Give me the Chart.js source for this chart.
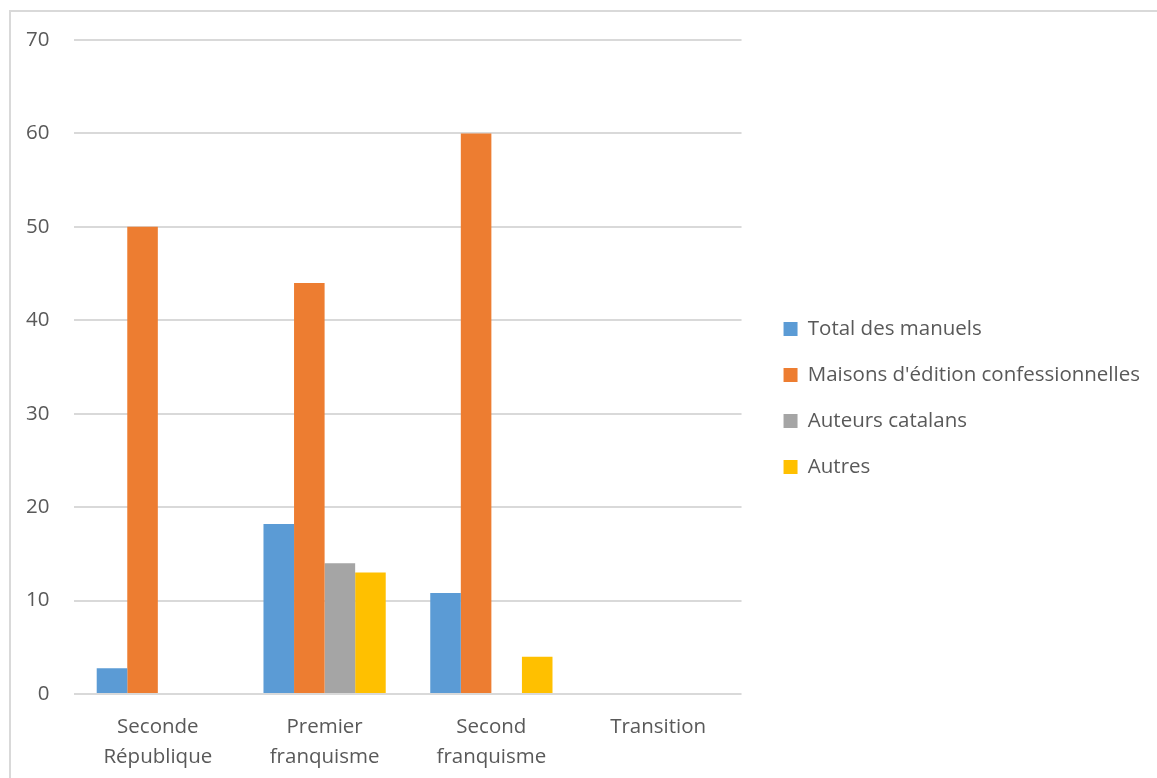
<!DOCTYPE html>
<html>
<head>
<meta charset="utf-8">
<script src="https://cdn.jsdelivr.net/npm/chart.js@4.4.1/dist/chart.umd.min.js"></script>
<style>
  html, body { margin: 0; padding: 0; background: #fff; overflow: hidden; }
  #frame { position: absolute; left: 9px; top: 10px; width: 1300px; height: 900px; border: 2px solid #d9d9d9; box-sizing: border-box; }
  #wrap { position: absolute; left: 0; top: 0; width: 1157px; height: 778px; }
</style>
</head>
<body>
<div id="frame"></div>
<div id="wrap"><canvas id="chart"></canvas></div>
<script>
const categories = [['Seconde', 'République'], ['Premier', 'franquisme'], ['Second', 'franquisme'], 'Transition'];
const seriesNames = ['Total des manuels', "Maisons d'édition confessionnelles", 'Auteurs catalans', 'Autres'];
const totalManuels = [2.75, 18.2, 10.8, 0];
const maisonsConfessionnelles = [50, 44, 60, 0];
const auteursCatalans = [0, 14, 0, 0];
const autres = [0, 13, 4, 0];
const yTicks = [0, 10, 20, 30, 40, 50, 60, 70];

const colors = ['#5b9bd5', '#ed7d31', '#a5a5a5', '#ffc000'];
const values = [totalManuels, maisonsConfessionnelles, auteursCatalans, autres];

Chart.defaults.font.family = '"Open Sans", sans-serif';
Chart.defaults.font.size = 20.5;
Chart.defaults.color = '#595959';

// empty axes used only as spacers
const spacer = (position, size) => ({
  position,
  display: true,
  grid: { display: false, drawTicks: false },
  border: { display: false },
  ticks: { display: false },
  afterFit(scale) {
    if (scale.isHorizontal()) scale.height = size;
    else scale.width = size;
  },
});

const ctx = document.getElementById('chart');
new Chart(ctx, {
  type: 'bar',
  data: {
    labels: categories,
    datasets: seriesNames.map((name, i) => ({
      label: name,
      data: values[i],
      backgroundColor: colors[i],
      borderWidth: 0,
      categoryPercentage: 0.733,
      barPercentage: 1,
    })),
  },
  options: {
    responsive: true,
    maintainAspectRatio: false,
    animation: false,
    layout: {
      padding: { left: 1, top: 24, right: 7, bottom: 6 },
    },
    plugins: {
      legend: {
        position: 'right',
        maxWidth: 440,
        labels: {
          boxWidth: 14,
          boxHeight: 14,
          padding: 25.5,
          color: '#595959',
        },
      },
      tooltip: { enabled: false },
    },
    scales: {
      x: {
        grid: { display: false, drawTicks: false },
        border: { display: false },
        ticks: { padding: 18, color: '#595959', font: { lineHeight: '30px' } },
        afterFit(scale) {
          scale.height = 78;
        },
      },
      y: {
        min: 0,
        max: 70,
        afterBuildTicks(scale) {
          scale.ticks = yTicks.map((v) => ({ value: v }));
        },
        grid: { color: '#d9d9d9', lineWidth: 2, drawTicks: false },
        border: { display: false },
        ticks: { padding: 25, color: '#595959' },
      },
      topGap: { type: 'category', axis: 'x', ...spacer('top', 16) },
      rightGap: { type: 'linear', axis: 'y', ...spacer('right', 16.5) },
    },
  },
});
</script>
</body>
</html>
